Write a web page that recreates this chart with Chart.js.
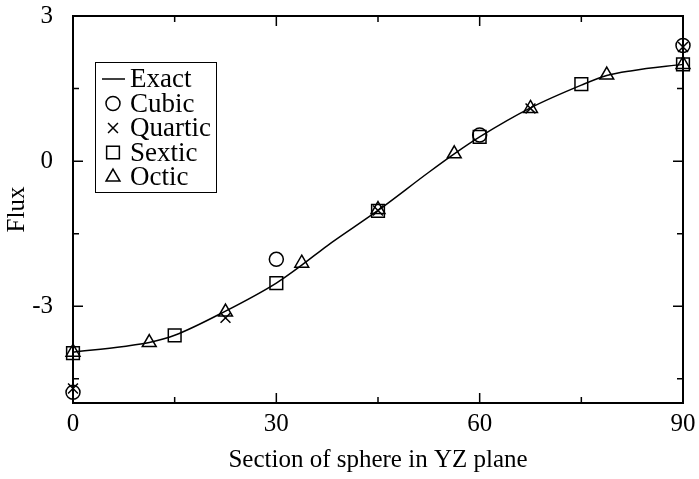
<!DOCTYPE html>
<html>
<head>
<meta charset="utf-8">
<script src="https://cdn.jsdelivr.net/npm/chart.js@4/dist/chart.umd.min.js"></script>
<style>
  html, body { margin: 0; padding: 0; background: #fff; }
  #wrap { width: 699px; height: 479px; }
</style>
</head>
<body>
<div id="wrap"><canvas id="fluxChart"></canvas></div>
<script>
// Datos del gráfico
var exactX = [0, 7.5, 11.25, 15, 22.5, 30, 33.75, 37.5, 45, 52.5, 56.25, 60, 67.5, 75, 78.75, 82.5, 90];
var exactY = [-3.95, -3.83, -3.75, -3.6, -3.1, -2.52, -2.15, -1.75, -1.02, -0.23, 0.15, 0.5, 1.1, 1.57, 1.77, 1.87, 2.0];

var cubicX = [0, 30, 60, 90];
var cubicY = [-4.78, -2.03, 0.54, 2.39];

var quarticX = [0, 22.5, 45, 67.5, 90];
var quarticY = [-4.7, -3.24, -1.02, 1.09, 2.36];

var sexticX = [0, 15, 30, 45, 60, 75, 90];
var sexticY = [-3.97, -3.6, -2.52, -1.03, 0.5, 1.59, 2.0];

var octicX = [0, 11.25, 22.5, 33.75, 45, 56.25, 67.5, 78.75, 90];
var octicY = [-3.95, -3.75, -3.12, -2.11, -1.0, 0.15, 1.09, 1.78, 2.0];

var xTicks = [0, 15, 30, 45, 60, 75, 90];
var yTicks = [-4.5, -3, -1.5, 0, 1.5, 3];

var FONT = "'Liberation Serif', 'Times New Roman', serif";

function pares(xs, ys) {
    return xs.map(function (x, i) { return { x: x, y: ys[i] }; });
}

// Marco y marcas hacia dentro en los cuatro lados
var marcoPlugin = {
    id: 'marco',
    afterDatasetsDraw: function (chart) {
        var ctx = chart.ctx, a = chart.chartArea;
        var sx = chart.scales.x, sy = chart.scales.y;
        ctx.save();
        ctx.strokeStyle = '#000';
        ctx.lineWidth = 1.5;
        ctx.beginPath();
        xTicks.forEach(function (v) {
            var px = sx.getPixelForValue(v);
            var len = (v % 30 === 0) ? 10 : 6;
            ctx.moveTo(px, a.bottom); ctx.lineTo(px, a.bottom - len);
            ctx.moveTo(px, a.top); ctx.lineTo(px, a.top + len);
        });
        yTicks.forEach(function (v) {
            var py = sy.getPixelForValue(v);
            var len = (v % 3 === 0) ? 10 : 6;
            ctx.moveTo(a.left, py); ctx.lineTo(a.left + len, py);
            ctx.moveTo(a.right, py); ctx.lineTo(a.right - len, py);
        });
        ctx.stroke();
        ctx.lineWidth = 2;
        ctx.strokeRect(a.left, a.top, a.right - a.left, a.bottom - a.top);
        ctx.restore();
    }
};

// Leyenda con recuadro dentro del área del gráfico
var leyendaPlugin = {
    id: 'leyendaCaja',
    afterDraw: function (chart) {
        var ctx = chart.ctx, a = chart.chartArea;
        var x0 = a.left + 22, y0 = a.top + 46, w = 121, h = 130, paso = 24.5;
        ctx.save();
        ctx.fillStyle = '#fff';
        ctx.fillRect(x0, y0, w, h);
        ctx.strokeStyle = '#000';
        ctx.lineWidth = 1;
        ctx.strokeRect(x0 + 0.5, y0 + 0.5, w, h);
        ctx.font = '27px ' + FONT;
        ctx.textBaseline = 'middle';
        chart.data.datasets.forEach(function (ds, i) {
            var cy = y0 + 17 + i * paso;
            var cx = x0 + 18;
            ctx.strokeStyle = '#000';
            ctx.fillStyle = 'rgba(0,0,0,0)';
            if (ds.showLine) {
                ctx.lineWidth = 1.5;
                ctx.beginPath();
                ctx.moveTo(x0 + 7, cy); ctx.lineTo(x0 + 30, cy);
                ctx.stroke();
            } else {
                ctx.lineWidth = 1.5;
                Chart.helpers.drawPoint(ctx, {
                    pointStyle: ds.pointStyle,
                    radius: ds.pointRadius,
                    rotation: 0,
                    borderWidth: 1.5
                }, cx, cy);
            }
            ctx.fillStyle = '#000';
            ctx.fillText(ds.label, x0 + 35, cy + 1);
        });
        ctx.restore();
    }
};

function serieMarcas(label, xs, ys, estilo, radio) {
    return {
        label: label,
        data: pares(xs, ys),
        showLine: false,
        pointStyle: estilo,
        pointRadius: radio,
        pointHoverRadius: radio,
        pointBorderWidth: 1.5,
        pointBorderColor: '#000',
        pointBackgroundColor: 'rgba(0,0,0,0)',
        borderColor: '#000',
        clip: false
    };
}

new Chart(document.getElementById('fluxChart').getContext('2d'), {
    type: 'scatter',
    data: {
        datasets: [
            {
                label: 'Exact',
                data: pares(exactX, exactY),
                showLine: true,
                borderColor: '#000',
                borderWidth: 1.5,
                pointRadius: 0,
                cubicInterpolationMode: 'monotone',
                fill: false,
                clip: false
            },
            serieMarcas('Cubic', cubicX, cubicY, 'circle', 7),
            serieMarcas('Quartic', quarticX, quarticY, 'crossRot', 7),
            serieMarcas('Sextic', sexticX, sexticY, 'rect', 9),
            serieMarcas('Octic', octicX, octicY, 'triangle', 8)
        ]
    },
    options: {
        responsive: true,
        maintainAspectRatio: false,
        animation: false,
        events: [],
        layout: { padding: { top: 16, right: 16, left: 0, bottom: 0 } },
        plugins: {
            legend: { display: false },
            tooltip: { enabled: false }
        },
        scales: {
            x: {
                type: 'linear',
                min: 0,
                max: 90,
                afterBuildTicks: function (scale) {
                    scale.ticks = xTicks.map(function (v) { return { value: v }; });
                },
                afterFit: function (scale) {
                    scale.height = 76;
                    scale.paddingLeft = 0;
                    scale.paddingRight = 0;
                },
                grid: { display: false, drawTicks: false },
                border: { display: false },
                ticks: {
                    autoSkip: false,
                    maxRotation: 0,
                    padding: 6,
                    color: '#000',
                    font: { family: FONT, size: 25 },
                    callback: function (v) { return v % 30 === 0 ? String(v) : ''; }
                },
                title: {
                    display: true,
                    text: 'Section of sphere in YZ plane',
                    color: '#000',
                    font: { family: FONT, size: 25 },
                    padding: { top: 4, bottom: 4 }
                }
            },
            y: {
                type: 'linear',
                min: -5,
                max: 3,
                afterBuildTicks: function (scale) {
                    scale.ticks = yTicks.map(function (v) { return { value: v }; });
                },
                afterFit: function (scale) {
                    scale.width = 73;
                    scale.paddingTop = 0;
                    scale.paddingBottom = 0;
                },
                grid: { display: false, drawTicks: false },
                border: { display: false },
                ticks: {
                    autoSkip: false,
                    padding: 20,
                    color: '#000',
                    font: { family: FONT, size: 25 },
                    callback: function (v) { return v % 3 === 0 ? String(v) : ''; }
                },
                title: {
                    display: true,
                    text: 'Flux',
                    color: '#000',
                    font: { family: FONT, size: 25 },
                    padding: { top: 2, bottom: 0 }
                }
            }
        }
    },
    plugins: [marcoPlugin, leyendaPlugin]
});
</script>
</body>
</html>
